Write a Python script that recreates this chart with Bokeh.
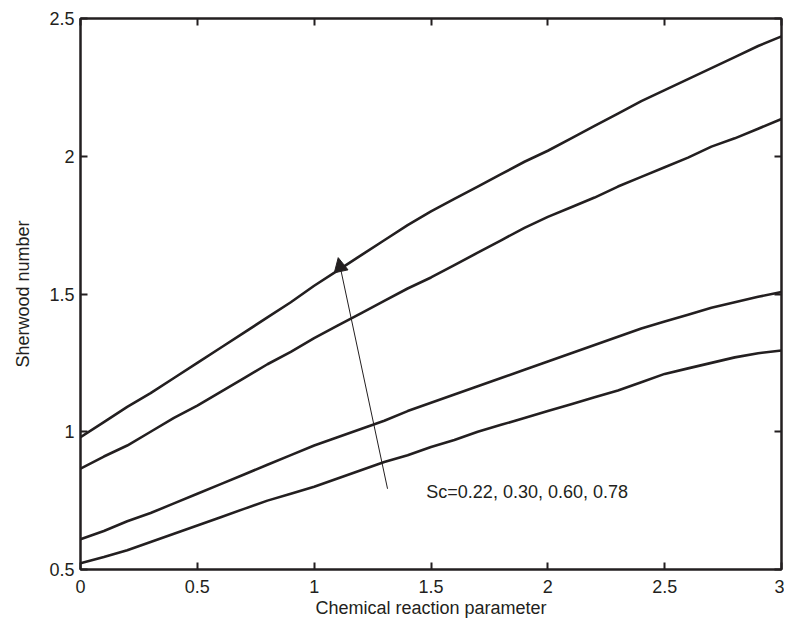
from bokeh.plotting import figure
from bokeh.models import LinearAxis, FixedTicker, Range1d, Arrow, NormalHead, Label
from bokeh.embed import file_html
from bokeh.resources import INLINE

# ---- data ----
lam = [0.0, 0.1, 0.2, 0.3, 0.4, 0.5, 0.6, 0.7, 0.8, 0.9, 1.0,
       1.1, 1.2, 1.3, 1.4, 1.5, 1.6, 1.7, 1.8, 1.9, 2.0,
       2.1, 2.2, 2.3, 2.4, 2.5, 2.6, 2.7, 2.8, 2.9, 3.0]

sh_sc078 = [0.98, 1.035, 1.09, 1.14, 1.195, 1.25, 1.305, 1.36, 1.415, 1.47, 1.53,
            1.585, 1.64, 1.695, 1.75, 1.80, 1.845, 1.89, 1.935, 1.98, 2.02,
            2.065, 2.11, 2.155, 2.20, 2.24, 2.28, 2.32, 2.36, 2.40, 2.435]
sh_sc060 = [0.866, 0.91, 0.95, 1.0, 1.05, 1.095, 1.145, 1.195, 1.245, 1.29, 1.34,
            1.385, 1.43, 1.475, 1.52, 1.56, 1.605, 1.65, 1.695, 1.74, 1.78,
            1.815, 1.85, 1.89, 1.925, 1.96, 1.995, 2.035, 2.065, 2.10, 2.135]
sh_sc030 = [0.61, 0.64, 0.675, 0.705, 0.74, 0.775, 0.81, 0.845, 0.88, 0.915, 0.95,
            0.98, 1.01, 1.04, 1.075, 1.105, 1.135, 1.165, 1.195, 1.225, 1.255,
            1.285, 1.315, 1.345, 1.375, 1.40, 1.425, 1.45, 1.47, 1.49, 1.507]
sh_sc022 = [0.523, 0.545, 0.57, 0.60, 0.63, 0.66, 0.69, 0.72, 0.75, 0.775, 0.80,
            0.83, 0.86, 0.89, 0.915, 0.945, 0.97, 1.0, 1.025, 1.05, 1.075,
            1.10, 1.125, 1.15, 1.18, 1.21, 1.23, 1.25, 1.27, 1.285, 1.295]

x_ticks = [0, 0.5, 1, 1.5, 2, 2.5, 3]
x_tick_labels = ["0", "0.5", "1", "1.5", "2", "2.5", "3"]
y_ticks = [0.5, 1, 1.5, 2, 2.5]
y_tick_labels = ["0.5", "1", "1.5", "2", "2.5"]

annotation_text = "Sc=0.22, 0.30, 0.60, 0.78"
arrow_from = (1.314, 0.793)
arrow_to = (1.103, 1.632)
label_pos = (1.48, 0.78)

FONT = "Liberation Sans"
INK = "#231f20"

p = figure(width=784, height=621, output_backend="svg", toolbar_location=None,
           x_range=Range1d(0, 3), y_range=Range1d(0.5, 2.5),
           x_axis_location=None, y_axis_location=None,
           min_border_left=80, min_border_right=3, min_border_top=18, min_border_bottom=52)
p.grid.visible = False
p.outline_line_color = INK
p.outline_line_width = 2
p.background_fill_color = "white"
p.border_fill_color = "white"

def make_axis(ticks, labels, show_labels, title=None):
    ax = LinearAxis(ticker=FixedTicker(ticks=ticks))
    ax.axis_line_color = INK
    ax.axis_line_width = 2
    ax.major_tick_line_color = INK
    ax.major_tick_line_width = 2
    ax.major_tick_in = 7
    ax.major_tick_out = 0
    ax.minor_tick_line_color = None
    ax.major_label_text_font = FONT
    ax.major_label_text_color = INK
    ax.major_label_text_font_size = "18px"
    if show_labels:
        ax.major_label_overrides = {t: l for t, l in zip(ticks, labels)}
    else:
        ax.major_label_overrides = {t: "" for t in ticks}
        ax.major_label_standoff = 0
    if title:
        ax.axis_label = title
        ax.axis_label_text_font = FONT
        ax.axis_label_text_font_size = "18px"
        ax.axis_label_text_font_style = "normal"
        ax.axis_label_text_color = INK
    return ax

xb = make_axis(x_ticks, x_tick_labels, True, "Chemical reaction parameter")
xb.major_label_standoff = 10
xb.axis_label_standoff = 2
yl = make_axis(y_ticks, y_tick_labels, True, "Sherwood number")
yl.major_label_standoff = 6
yl.axis_label_standoff = 13
xt = make_axis(x_ticks, x_tick_labels, False)
yr = make_axis(y_ticks, y_tick_labels, False)
p.add_layout(xb, "below")
p.add_layout(yl, "left")
p.add_layout(xt, "above")
p.add_layout(yr, "right")

for ys in [sh_sc078, sh_sc060, sh_sc030, sh_sc022]:
    p.line(lam, ys, line_color=INK, line_width=2.6)

p.add_layout(Arrow(x_start=arrow_from[0], y_start=arrow_from[1],
                   x_end=arrow_to[0], y_end=arrow_to[1],
                   line_color=INK, line_width=1,
                   end=NormalHead(size=14, fill_color=INK, line_color=INK, line_width=1)))

p.add_layout(Label(x=label_pos[0], y=label_pos[1], text=annotation_text,
                   text_font=FONT, text_font_size="18px", text_color=INK,
                   text_baseline="alphabetic"))

open("out.html", "w").write(file_html(p, INLINE))
